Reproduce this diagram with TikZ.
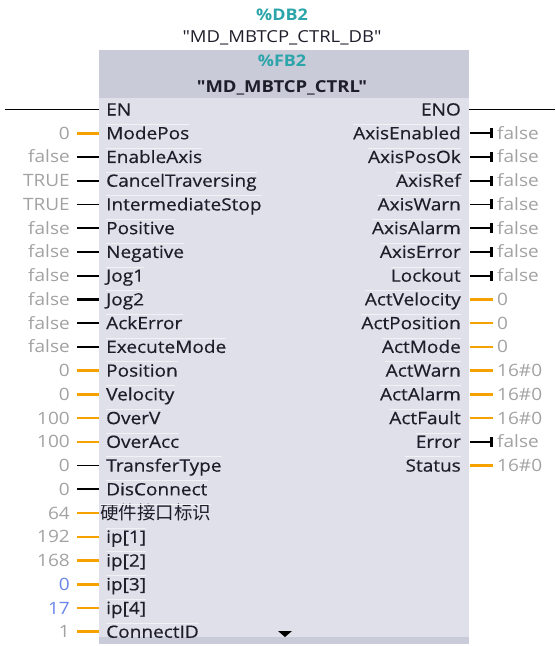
\documentclass[tikz,border=0pt]{standalone}
\usepackage{fontspec}
\setmainfont{Open Sans}[FakeStretch=1.12]
\newfontfamily\labfont{Open Sans}[FakeStretch=1.12, FakeBold=0.4]
\newfontfamily\hfont{Open Sans}[FakeStretch=1.12]
\newfontfamily\cjk{Noto Sans CJK SC}
\usetikzlibrary{arrows.meta}
\definecolor{orangew}{HTML}{F5A200}
\definecolor{valg}{HTML}{A2A2A2}
\definecolor{valb}{HTML}{6A85E8}
\definecolor{tealc}{HTML}{2BA5AA}
\definecolor{labc}{HTML}{1E1E2A}
\definecolor{headg}{HTML}{C9CBD8}
\definecolor{bodyg}{HTML}{DFE0EA}
\newcommand{\qd}{{\hfont\symbol{34}}}
\begin{document}
\begin{tikzpicture}[x=1pt,y=-1pt,
  txt/.style={font=\fontsize{17}{19}\selectfont, text height=12pt, text depth=0pt, inner ysep=0pt},
  labl/.style={txt, font=\fontsize{17}{19}\selectfont\labfont, text=labc, inner xsep=0pt, anchor=west},
  labr/.style={txt, font=\fontsize{17}{19}\selectfont\labfont, text=labc, inner xsep=0pt, anchor=east},
  valL/.style={txt, text=valg, anchor=east, inner xsep=7pt},
  valBl/.style={txt, text=valb, anchor=east, inner xsep=7pt},
  valR/.style={txt, text=valg, anchor=west, inner xsep=4pt},
  sep/.style={draw=white!55!bodyg, line width=0.9pt},
  boolw/.style={draw=black, line width=1.7pt},
  boolwk/.style={draw=black, line width=2.6pt},
  numw/.style={draw=orangew, line width=2.6pt},
  boolout/.style={boolw, -{Bar[width=10pt, line width=2.6pt]}},
]
\useasboundingbox (0,0) rectangle (555,646);
% box
\fill[bodyg] (99,98) rectangle (469,644);
\fill[headg] (99,50) rectangle (469,98);
\fill[headg] (99,637) rectangle (469,644);
% header texts
\node[text=tealc, font=\fontsize{16}{18}\selectfont\bfseries] (db) at (282,14.5) {\%DB2};
\node[text=labc, font=\fontsize{16.5}{18}\selectfont\hfont] (dbname) at (282,37.5) {\qd MD\_MBTCP\_CTRL\_DB\qd};
\node[text=tealc, font=\fontsize{16}{18}\selectfont\bfseries] (fb) at (282,61) {\%FB2};
\node[text=labc, font=\fontsize{16.5}{18}\selectfont\hfont\bfseries] (fbname) at (282,87.5) {\qd MD\_MBTCP\_CTRL\qd};
% EN / ENO
\node[labl] (EN) at (106,109.5) {EN};
\node[labr] (ENO) at (461,109.5) {ENO};
\coordinate (enl) at (5,109.5);
\coordinate (enb) at (99,109.5);
\coordinate (enob) at (469,109.5);
\coordinate (enor) at (555,109.5);
\draw[boolw] (enl) -- (enb);
\draw[boolw] (enob) -- (enor);
% left inputs
\foreach \i/\lab/\val/\ws/\vs/\lx in {
  1/ModePos/0/numw/valL/106,
  2/EnableAxis/false/boolw/valL/106,
  3/CancelTraversing/TRUE/boolw/valL/106,
  4/IntermediateStop/TRUE/boolw/valL/106,
  5/Positive/false/boolw/valL/106,
  6/Negative/false/boolw/valL/106,
  7/Jog1/false/boolw/valL/106,
  8/Jog2/false/boolwk/valL/106,
  9/AckError/false/boolw/valL/106,
  10/ExecuteMode/false/boolw/valL/106,
  11/Position/0/numw/valL/106,
  12/Velocity/0/numw/valL/106,
  13/OverV/100/numw/valL/106,
  14/OverAcc/100/numw/valL/106,
  15/TransferType/0/boolw/valL/106,
  16/DisConnect/0/boolw/valL/106,
  17/{\fontsize{18.5}{20}\selectfont\cjk 硬件接口标识}/64/numw/valL/100,
  18/{ip[1]}/192/numw/valL/106,
  19/{ip[2]}/168/numw/valL/106,
  20/{ip[3]}/0/numw/valBl/106,
  21/{ip[4]}/17/numw/valBl/106,
  22/ConnectID/1/numw/valL/106}{
  \pgfmathsetmacro{\yy}{109.5+23.74*\i}
  \node[labl] (L\i) at (\lx,\yy) {\lab};
  \draw[sep] ([yshift=2.5pt]L\i.north west) -- ([yshift=2.5pt]L\i.north east);
  \node[\vs] (V\i) at (77,\yy) {\val};
  \coordinate (PL\i) at (99,\yy);
  \draw[\ws] (V\i.east) -- (PL\i);
}
% right outputs
\foreach \i/\lab/\val/\ws in {
  1/AxisEnabled/false/boolout,
  2/AxisPosOk/false/boolout,
  3/AxisRef/false/boolout,
  4/AxisWarn/false/boolout,
  5/AxisAlarm/false/boolout,
  6/AxisError/false/boolout,
  7/Lockout/false/boolout,
  8/ActVelocity/0/numw,
  9/ActPosition/0/numw,
  10/ActMode/0/numw,
  11/ActWarn/{16\#0}/numw,
  12/ActAlarm/{16\#0}/numw,
  13/ActFault/{16\#0}/numw,
  14/Error/false/boolout,
  15/Status/{16\#0}/numw}{
  \pgfmathsetmacro{\yy}{109.5+23.74*\i}
  \node[labr] (R\i) at (461,\yy) {\lab};
  \draw[sep] ([yshift=2.5pt]R\i.north west) -- ([yshift=2.5pt]R\i.north east);
  \node[valR] (RV\i) at (493,\yy) {\val};
  \coordinate (PR\i) at (470,\yy);
  \draw[\ws] (PR\i) -- (RV\i.west);
}
% more marker
\fill[black] (278,631) -- (292,631) -- (285,637) -- cycle;
\end{tikzpicture}
\end{document}
